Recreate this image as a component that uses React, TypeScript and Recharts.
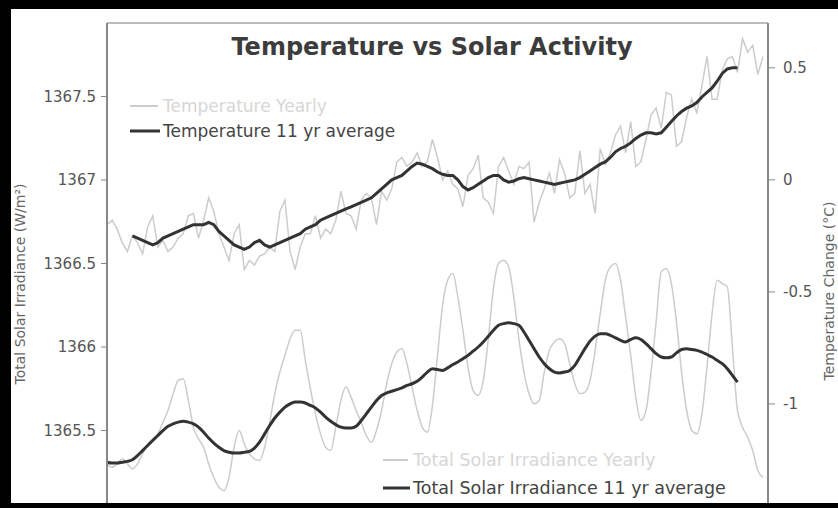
import { LineChart, Line, XAxis, YAxis, ReferenceLine } from "recharts";

const FONT = "'DejaVu Sans', Verdana, sans-serif";

const FIRST_YEAR = 1880;

// global temperature anomaly, yearly (°C), 1880-2009
const TEMP_YEARLY = [
  -0.2, -0.18, -0.22, -0.28, -0.32, -0.25, -0.28, -0.33, -0.21, -0.16,
  -0.3, -0.27, -0.32, -0.3, -0.26, -0.24, -0.16, -0.15, -0.26, -0.18,
  -0.08, -0.14, -0.24, -0.3, -0.36, -0.24, -0.2, -0.4, -0.36, -0.38,
  -0.34, -0.33, -0.3, -0.32, -0.14, -0.09, -0.32, -0.4, -0.3, -0.24,
  -0.24, -0.16, -0.26, -0.22, -0.24, -0.18, -0.05, -0.15, -0.16, -0.22,
  -0.09, -0.06, -0.08, -0.2, -0.05, -0.09, -0.04, 0.08, 0.1, 0.06,
  0.08, 0.12, 0.06, 0.08, 0.18, 0.1, 0.0, 0.04, -0.02, -0.04,
  -0.12, 0.02, 0.05, 0.11, -0.08, -0.1, -0.15, 0.06, 0.1, 0.04,
  -0.02, 0.06, 0.05, 0.08, -0.19, -0.1, -0.04, 0.03, -0.06, 0.09,
  0.03, -0.08, -0.06, 0.13, -0.06, -0.02, -0.15, 0.14, 0.07, 0.12,
  0.2, 0.24, 0.12, 0.26, 0.06, 0.08, 0.18, 0.29, 0.32, 0.23,
  0.39, 0.38, 0.15, 0.17, 0.28, 0.36, 0.3, 0.42, 0.55, 0.36,
  0.36, 0.49, 0.54, 0.55, 0.48, 0.63, 0.57, 0.6, 0.47, 0.55,
];

// temperature 11 yr average, 1885-2004
const TEMP_AVG_START = 1885;
const TEMP_AVG = [
  -0.25, -0.26, -0.27, -0.28, -0.29,
  -0.28, -0.26, -0.25, -0.24, -0.23, -0.22, -0.21, -0.2, -0.2, -0.2,
  -0.19, -0.2, -0.23, -0.25, -0.27, -0.29, -0.3, -0.31, -0.3, -0.28,
  -0.27, -0.29, -0.3, -0.29, -0.28, -0.27, -0.26, -0.25, -0.24, -0.22,
  -0.21, -0.2, -0.18, -0.17, -0.16, -0.15, -0.14, -0.13, -0.12, -0.11,
  -0.1, -0.09, -0.08, -0.06, -0.04, -0.02, 0.0, 0.01, 0.02, 0.04,
  0.06, 0.075, 0.07, 0.06, 0.05, 0.035, 0.025, 0.02, 0.02, 0.0,
  -0.03, -0.045, -0.035, -0.02, -0.005, 0.01, 0.02, 0.02, 0.0, -0.01,
  -0.005, 0.005, 0.01, 0.005, 0.0, -0.005, -0.01, -0.015, -0.02, -0.015,
  -0.01, -0.005, 0.0, 0.01, 0.025, 0.04, 0.055, 0.07, 0.08, 0.1,
  0.125, 0.14, 0.15, 0.165, 0.185, 0.2, 0.21, 0.21, 0.205, 0.21,
  0.235, 0.26, 0.285, 0.305, 0.32, 0.33, 0.345, 0.37, 0.39, 0.41,
  0.44, 0.475, 0.495, 0.5, 0.5,
];

// total solar irradiance, yearly (W/m²), 1880-2009
const TSI_YEARLY = [
  1365.3, 1365.28, 1365.3, 1365.33, 1365.3, 1365.27, 1365.3, 1365.36, 1365.42, 1365.45,
  1365.48, 1365.55, 1365.62, 1365.72, 1365.8, 1365.81, 1365.68, 1365.52, 1365.45, 1365.4,
  1365.3, 1365.22, 1365.16, 1365.14, 1365.22, 1365.4, 1365.5, 1365.42, 1365.36, 1365.33,
  1365.32, 1365.4, 1365.55, 1365.72, 1365.85, 1365.95, 1366.05, 1366.1, 1366.1, 1365.92,
  1365.75, 1365.6, 1365.48, 1365.4, 1365.38, 1365.52, 1365.68, 1365.76, 1365.7, 1365.62,
  1365.55, 1365.47, 1365.43, 1365.5, 1365.62, 1365.78, 1365.9, 1365.97, 1365.99, 1365.9,
  1365.76, 1365.62, 1365.52, 1365.49, 1365.65, 1365.95, 1366.25, 1366.4, 1366.44, 1366.3,
  1366.1, 1365.88, 1365.74, 1365.71, 1365.8, 1366.05, 1366.35, 1366.5, 1366.52, 1366.48,
  1366.3, 1366.05, 1365.85, 1365.72, 1365.66, 1365.68, 1365.85, 1365.98, 1366.03, 1366.05,
  1366.02, 1365.9, 1365.78, 1365.72, 1365.73, 1365.8, 1365.98, 1366.2, 1366.4, 1366.48,
  1366.5, 1366.4, 1366.18, 1365.95, 1365.7, 1365.56, 1365.62, 1365.85, 1366.15, 1366.45,
  1366.47, 1366.38, 1366.15, 1365.85, 1365.62, 1365.5, 1365.48, 1365.6, 1365.88, 1366.2,
  1366.4, 1366.38, 1366.36, 1366.0, 1365.62, 1365.52, 1365.46, 1365.38, 1365.26, 1365.22,
];

// total solar irradiance 11 yr average, 1880-2004
const TSI_AVG_START = 1880;
const TSI_AVG = [
  1365.31, 1365.305, 1365.305, 1365.31, 1365.315, 1365.325, 1365.35, 1365.38, 1365.41, 1365.44,
  1365.47, 1365.5, 1365.525, 1365.54, 1365.55, 1365.555, 1365.55, 1365.54, 1365.52, 1365.49,
  1365.455, 1365.425, 1365.4, 1365.38, 1365.37, 1365.365, 1365.365, 1365.37, 1365.375, 1365.395,
  1365.43, 1365.48, 1365.53, 1365.575, 1365.61, 1365.64, 1365.66, 1365.67, 1365.67, 1365.665,
  1365.65, 1365.635, 1365.61, 1365.58, 1365.555, 1365.535, 1365.52, 1365.515, 1365.515, 1365.525,
  1365.56, 1365.6, 1365.64, 1365.68, 1365.71, 1365.725, 1365.735, 1365.745, 1365.755, 1365.77,
  1365.78, 1365.795, 1365.82, 1365.85, 1365.87, 1365.865, 1365.86, 1365.875, 1365.895, 1365.91,
  1365.93, 1365.95, 1365.975, 1366.0, 1366.03, 1366.065, 1366.1, 1366.13, 1366.14, 1366.145,
  1366.14, 1366.13, 1366.09, 1366.04, 1365.99, 1365.94, 1365.9, 1365.87, 1365.85, 1365.845,
  1365.85, 1365.86, 1365.89, 1365.94, 1365.99, 1366.035, 1366.065, 1366.08, 1366.08, 1366.07,
  1366.055, 1366.04, 1366.03, 1366.045, 1366.055, 1366.045, 1366.02, 1365.99, 1365.96, 1365.94,
  1365.935, 1365.94, 1365.965, 1365.985, 1365.99, 1365.985, 1365.98, 1365.97, 1365.955, 1365.94,
  1365.92, 1365.9, 1365.87, 1365.83, 1365.79,
];

const TSI_TICKS = [1365.5, 1366, 1366.5, 1367, 1367.5];
const TEMP_TICKS = [-1, -0.5, 0, 0.5];
const TSI_DOMAIN = [1365.066, 1367.94];
const TEMP_DOMAIN = [-1.442, 0.7];

const data = TEMP_YEARLY.map((t, i) => {
  const year = FIRST_YEAR + i;
  return {
    year,
    tempYearly: t,
    tempAvg: TEMP_AVG[year - TEMP_AVG_START] ?? null,
    tsiYearly: TSI_YEARLY[i] ?? null,
    tsiAvg: TSI_AVG[year - TSI_AVG_START] ?? null,
  };
});

const LIGHT = "#cccccc";
const DARK = "#333333";

export default function App() {
  const tickStyle = { fill: "#555", fontSize: 15, fontFamily: FONT };
  return (
    <div
      style={{
        position: "fixed",
        top: 0,
        left: 0,
        width: 838,
        height: 508,
        overflow: "hidden",
        background: "#fff",
      }}
    >
      <LineChart
        width={838}
        height={508}
        data={data}
        margin={{ top: 23, right: 10, bottom: 5, left: 47 }}
      >
        <XAxis dataKey="year" type="number" domain={[1880, 2010]} hide />
        <YAxis
          yAxisId="tsi"
          orientation="left"
          width={60}
          domain={TSI_DOMAIN}
          ticks={TSI_TICKS}
          allowDataOverflow
          tick={tickStyle}
          tickSize={6}
          tickMargin={5}
          axisLine={{ stroke: "#888", strokeWidth: 2 }}
          tickLine={{ stroke: "#888" }}
        />
        <YAxis
          yAxisId="temp"
          orientation="right"
          width={60}
          domain={TEMP_DOMAIN}
          ticks={TEMP_TICKS}
          allowDataOverflow
          tick={tickStyle}
          tickSize={7}
          tickMargin={8}
          axisLine={{ stroke: "#888", strokeWidth: 2 }}
          tickLine={{ stroke: "#888" }}
        />
        <ReferenceLine yAxisId="tsi" y={1367.94} stroke="#bbb" strokeWidth={2} />
        <Line
          yAxisId="temp"
          dataKey="tempYearly"
          stroke={LIGHT}
          strokeWidth={1.5}
          dot={false}
          isAnimationActive={false}
        />
        <Line
          yAxisId="tsi"
          dataKey="tsiYearly"
          type="monotone"
          stroke={LIGHT}
          strokeWidth={1.5}
          dot={false}
          isAnimationActive={false}
        />
        <Line
          yAxisId="temp"
          dataKey="tempAvg"
          stroke={DARK}
          strokeWidth={3}
          dot={false}
          isAnimationActive={false}
        />
        <Line
          yAxisId="tsi"
          dataKey="tsiAvg"
          type="monotone"
          stroke={DARK}
          strokeWidth={3}
          dot={false}
          isAnimationActive={false}
        />
      </LineChart>

      <svg
        width={838}
        height={508}
        style={{ position: "absolute", top: 0, left: 0, pointerEvents: "none" }}
        fontFamily={FONT}
      >
        <text x={432} y={55} textAnchor="middle" fontSize={24} fontWeight="bold" fill="#3c3c3c">
          Temperature vs Solar Activity
        </text>

        <line x1={130} x2={158} y1={106} y2={106} stroke={LIGHT} strokeWidth={2} />
        <text x={163} y={112} fontSize={17} fill="#d6d6d6">
          Temperature Yearly
        </text>
        <line x1={130} x2={160} y1={131} y2={131} stroke={DARK} strokeWidth={3} />
        <text x={163} y={137} fontSize={17} fill="#444">
          Temperature 11 yr average
        </text>

        <line x1={383} x2={408} y1={460} y2={460} stroke={LIGHT} strokeWidth={2} />
        <text x={413} y={466} fontSize={17.5} fill="#d6d6d6">
          Total Solar Irradiance Yearly
        </text>
        <line x1={383} x2={410} y1={488} y2={488} stroke={DARK} strokeWidth={3} />
        <text x={413} y={494} fontSize={17.5} fill="#444">
          Total Solar Irradiance 11 yr average
        </text>

        <text
          x={20}
          y={284}
          fontSize={14}
          fill="#666"
          textAnchor="middle"
          dominantBaseline="central"
          transform="rotate(-90 20 284)"
        >
          Total Solar Irradiance (W/m²)
        </text>
        <text
          x={829}
          y={291}
          fontSize={14}
          fill="#666"
          textAnchor="middle"
          dominantBaseline="central"
          transform="rotate(-90 829 291)"
        >
          Temperature Change (°C)
        </text>

        <rect x={0} y={0} width={838} height={9} fill="#000" />
        <rect x={0} y={0} width={11} height={508} fill="#000" />
        <rect x={0} y={503} width={838} height={5} fill="#000" />
      </svg>
    </div>
  );
}
